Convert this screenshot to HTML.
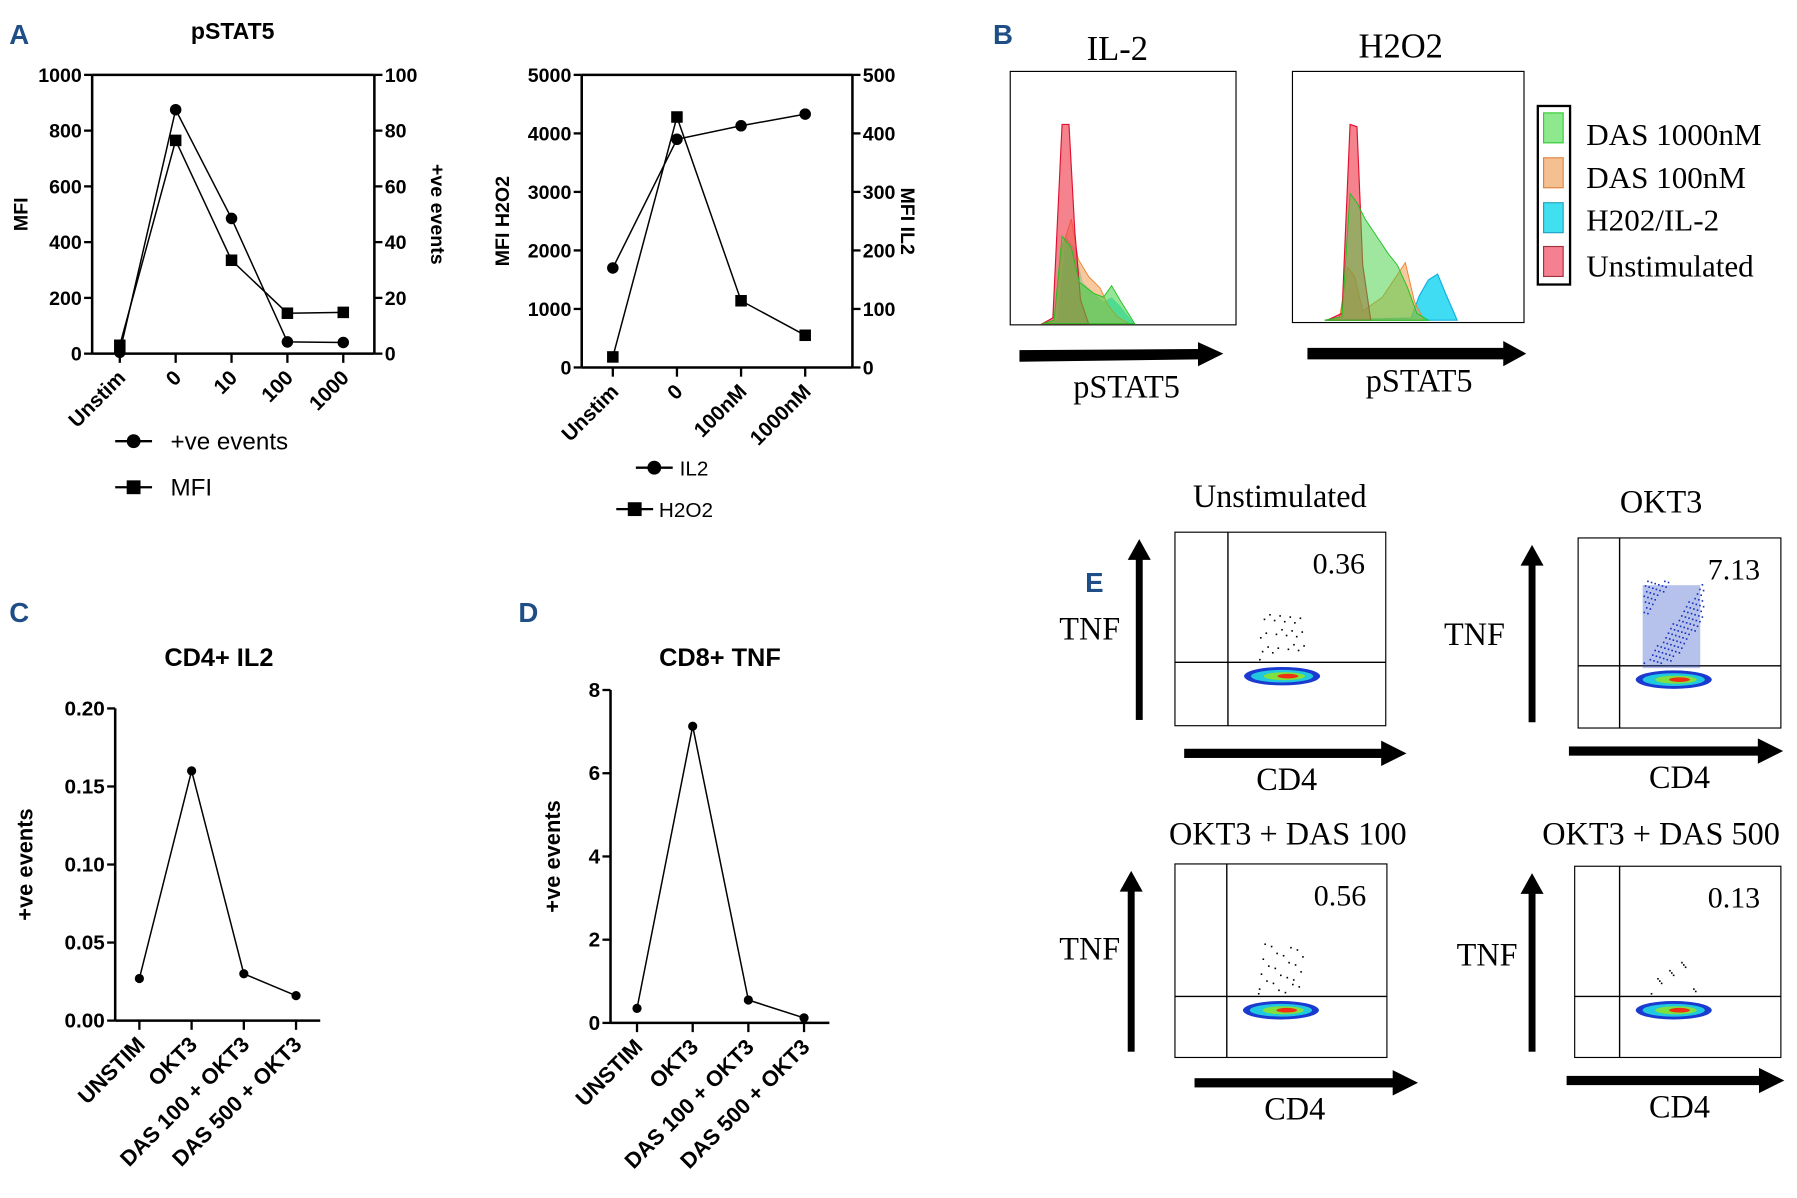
<!DOCTYPE html>
<html><head><meta charset="utf-8"><style>
html,body{margin:0;padding:0;background:#fff;}
svg{display:block;}
.s{font-family:"Liberation Sans",sans-serif;}
.r{font-family:"Liberation Serif",serif;}
</style></head><body>
<svg id="fig" width="1797" height="1198" viewBox="0 0 1560 1040" preserveAspectRatio="none" xmlns="http://www.w3.org/2000/svg">
<g class="s" font-weight="bold" fill="#1f4e87" font-size="24">
<text x="8" y="38">A</text>
<text x="862" y="38">B</text>
<text x="8" y="540">C</text>
<text x="450" y="540">D</text>
<text x="942" y="514">E</text>
</g>
<g id="charts"></g>
<!-- Panel B histograms -->
<g>
<text class="r" x="970" y="52" font-size="30" text-anchor="middle">IL-2</text>
<rect x="877" y="62" width="196" height="220" fill="none" stroke="#000" stroke-width="1"/>
<path d="M905,281 L918,279 L925,205 L933,215 L940,245 L950,255 L958,262 L965,258 L972,265 L985,281Z" fill="#00d8e8" fill-opacity="0.6"/>
<path d="M905,281 L915,278 L922,215 L930,190 L936,225 L945,240 L955,250 L962,265 L970,275 L980,281Z" fill="#f3a55e" fill-opacity="0.6" stroke="#f08030" stroke-width="0.8"/>
<path d="M905,281 L914,276 L922,108 L928,108 L933,200 L938,260 L945,281Z" fill="#f04050" fill-opacity="0.65" stroke="#e01030"/>
<path d="M905,281 L915,278 L922,205 L930,215 L937,245 L950,255 L958,258 L965,248 L972,260 L985,281Z" fill="#40d040" fill-opacity="0.55" stroke="#20c020" stroke-width="0.8"/>
<path d="M885,304 L1040,303 L1040,297 L1062,307 L1040,318 L1040,312 L885,314Z" fill="#000"/>
<text class="r" x="978" y="345" font-size="28" text-anchor="middle">pSTAT5</text>
</g>
<g>
<text class="r" x="1216" y="50" font-size="30" text-anchor="middle">H2O2</text>
<rect x="1122" y="62" width="201" height="218" fill="none" stroke="#000" stroke-width="1"/>
<path d="M1150,278 L1225,276 L1232,257 L1240,243 L1248,238 L1255,255 L1265,278Z" fill="#00d0f0" fill-opacity="0.75" stroke="#10b0e0"/>
<path d="M1150,278 L1163,275 L1170,232 L1176,240 L1183,270 L1200,258 L1212,240 L1220,228 L1228,262 L1236,278Z" fill="#f3a55e" fill-opacity="0.6" stroke="#f08030" stroke-width="0.8"/>
<path d="M1152,278 L1165,272 L1172,108 L1178,110 L1183,230 L1190,278Z" fill="#f04050" fill-opacity="0.65" stroke="#e01030"/>
<path d="M1150,278 L1165,275 L1172,168 L1178,176 L1185,190 L1195,205 L1205,220 L1213,230 L1222,250 L1230,272 L1240,278Z" fill="#40d040" fill-opacity="0.5" stroke="#20c020" stroke-width="0.8"/>
<path d="M1135,302 L1305,302 L1305,296 L1325,307 L1305,318 L1305,312 L1135,312Z" fill="#000"/>
<text class="r" x="1232" y="340" font-size="28" text-anchor="middle">pSTAT5</text>
</g>
<g class="r" font-size="27">
<rect x="1335" y="92" width="28" height="155" fill="none" stroke="#000" stroke-width="2"/>
<rect x="1340" y="98" width="17" height="26" fill="#8ee88e" stroke="#3c3"/><text x="1377" y="126">DAS 1000nM</text>
<rect x="1340" y="137" width="17" height="26" fill="#f5c090" stroke="#e08040"/><text x="1377" y="163">DAS 100nM</text>
<rect x="1340" y="176" width="17" height="26" fill="#40e0f0" stroke="#20a0c0"/><text x="1377" y="200">H202/IL-2</text>
<rect x="1340" y="214" width="17" height="26" fill="#f58090" stroke="#a03040"/><text x="1377" y="240">Unstimulated</text>
</g>
<g id="flows"></g>
</svg>
<script>
// ---------- Panel A left ----------
const aCats = ["Unstim","0","10","100","1000"];
const aMFI = [30,765,335,145,148];
const aEvents = [0.5,87.5,48.5,4.2,4.0];
const aLeftTicks = [0,200,400,600,800,1000];
const aRightTicks = [0,20,40,60,80,100];
// ---------- Panel A right ----------
const bCats = ["Unstim","0","100nM","1000nM"];
const bH2O2 = [180,4280,1140,550];
const bIL2 = [170,390,413,433];
const bLeftTicks = [0,1000,2000,3000,4000,5000];
const bRightTicks = [0,100,200,300,400,500];
// ---------- Panel C ----------
const cCats = ["UNSTIM","OKT3","DAS 100 + OKT3","DAS 500 + OKT3"];
const cVals = [0.027,0.16,0.030,0.016];
const cTicks = [0,0.05,0.10,0.15,0.20];
const cTickLabels = ["0.00","0.05","0.10","0.15","0.20"];
// ---------- Panel D ----------
const dCats = ["UNSTIM","OKT3","DAS 100 + OKT3","DAS 500 + OKT3"];
const dVals = [0.35,7.13,0.55,0.12];
const dTicks = [0,2,4,6,8];
// ---------- Panel E ----------
const eTitles = ["Unstimulated","OKT3","OKT3 + DAS 100","OKT3 + DAS 500"];
const ePct = ["0.36","7.13","0.56","0.13"];

const NS="http://www.w3.org/2000/svg";
function mk(p,tag,at,txt){const e=document.createElementNS(NS,tag);for(const k in at)e.setAttribute(k,at[k]);if(txt!==undefined)e.textContent=txt;p.appendChild(e);return e;}
const root=document.getElementById('charts');

function lineChart(o){
  const g=mk(root,'g',{});
  
  
  const yL=v=>o.y1+(o.y0-o.y1)*(1-v/o.lmax);
  const yR=v=>o.y1+(o.y0-o.y1)*(1-v/o.rmax);
  const xs=i=>o.xa+(o.xb-o.xa)*i/(o.cats.length-1);
  const tfs=o.tkfs||17;
  mk(g,'line',{x1:o.ax0,y1:o.y0,x2:o.ax1,y2:o.y0,stroke:'#000','stroke-width':2.2});
  mk(g,'line',{x1:o.ax0,y1:o.y0,x2:o.ax0,y2:o.y1,stroke:'#000','stroke-width':2.2});
  if(o.top) mk(g,'line',{x1:o.ax0,y1:o.y1,x2:o.ax1,y2:o.y1,stroke:'#000','stroke-width':2.2});
  o.lt.forEach((t,i)=>{const y=yL(t);mk(g,'line',{x1:o.ax0-7,y1:y,x2:o.ax0,y2:y,stroke:'#000','stroke-width':2});
    const tl=mk(g,'text',{x:o.ax0-9,y:y+6,'text-anchor':'end','font-size':tfs,'font-weight':'bold',class:'s'},o.ltl?o.ltl[i]:String(t));
    });
  if(o.rt){mk(g,'line',{x1:o.ax1,y1:o.y0,x2:o.ax1,y2:o.y1,stroke:'#000','stroke-width':2.2});
    o.rt.forEach(t=>{const y=yR(t);mk(g,'line',{x1:o.ax1,y1:y,x2:o.ax1+7,y2:y,stroke:'#000','stroke-width':2});
    mk(g,'text',{x:o.ax1+9,y:y+6,'font-size':tfs,'font-weight':'bold',class:'s'},String(t));});}
  o.cats.forEach((c,i)=>{const x=xs(i);mk(g,'line',{x1:x,y1:o.y0,x2:x,y2:o.y0+8,stroke:'#000','stroke-width':2});
    const t=mk(g,'text',{x:x+6,y:o.y0+22,'text-anchor':'end','font-size':o.cfs||17,'font-weight':'bold',class:'s',transform:`rotate(-45 ${x+6} ${o.y0+22})`},c);
    });
  o.series.forEach(s=>{const f=s.axis==='r'?yR:yL;
    const pts=s.v.map((v,i)=>xs(i)+','+f(v)).join(' ');
    const pl=mk(g,'polyline',{points:pts,fill:'none',stroke:'#000','stroke-width':1.3});
    
    s.v.forEach((v,i)=>{let m;
      if(s.mk==='sq') m=mk(g,'rect',{x:xs(i)-5,y:f(v)-5,width:10,height:10,fill:'#000'});
      else m=mk(g,'circle',{cx:xs(i),cy:f(v),r:s.r||5,fill:'#000'});
      });});
  if(o.title) mk(g,'text',{x:o.tx,y:o.ty,'text-anchor':'middle','font-size':o.tfs||20,'font-weight':'bold',class:'s'},o.title);
  if(o.ylab) mk(g,'text',{x:0,y:0,'text-anchor':'middle','font-size':o.yfs||17,'font-weight':'bold',class:'s',transform:`translate(${o.ylx},${(o.y0+o.y1)/2}) rotate(-90)`},o.ylab);
  if(o.rlab) mk(g,'text',{x:0,y:0,'text-anchor':'middle','font-size':17,'font-weight':'bold',class:'s',transform:`translate(${o.rlx},${(o.y0+o.y1)/2}) rotate(90)`},o.rlab);
}
lineChart({name:'pstat5-chart',cats:aCats,ax0:80,ax1:325,y0:307,y1:65,top:true,xa:104,xb:298,lmax:1000,rmax:100,lt:aLeftTicks,rt:aRightTicks,cfs:18,
  series:[{name:'mfi',v:aMFI,mk:'sq'},{name:'events',v:aEvents,axis:'r'}],title:'pSTAT5',tx:202,ty:34,ylab:'MFI',ylx:24,rlab:'+ve events',rlx:374});
lineChart({name:'h2o2-il2-chart',cats:bCats,ax0:505,ax1:740,y0:319,y1:65,top:true,xa:532,xb:699,lmax:5000,rmax:500,lt:bLeftTicks,rt:bRightTicks,cfs:18,
  series:[{name:'h2o2',v:bH2O2,mk:'sq'},{name:'il2',v:bIL2,axis:'r'}],ylab:'MFI H2O2',ylx:442,rlab:'MFI IL2',rlx:782});
lineChart({name:'cd4-il2-chart',cats:cCats,ax0:100,ax1:278,y0:886,y1:615,xa:121,xb:257,lmax:0.20,lt:cTicks,ltl:cTickLabels,cfs:19,tkfs:18,
  series:[{name:'cd4-il2',v:cVals,r:4}],title:'CD4+ IL2',tx:190,ty:578,tfs:22,ylab:'+ve events',ylx:28,yfs:19});
lineChart({name:'cd8-tnf-chart',cats:dCats,ax0:530,ax1:720,y0:888,y1:599,xa:553,xb:698,lmax:8,lt:dTicks,cfs:19,tkfs:18,
  series:[{name:'cd8-tnf',v:dVals,r:4}],title:'CD8+ TNF',tx:625,ty:578,tfs:22,ylab:'+ve events',ylx:486,yfs:19});

// legends for panel A
const L=mk(root,'g',{class:'s'});

[[100,383,'c','+ve events',148,21],[100,423,'s','MFI',148,21],[552,406,'c','IL2',590,18],[535,442,'s','H2O2',572,18]].forEach(a=>{
  mk(L,'line',{x1:a[0],y1:a[1],x2:a[0]+32,y2:a[1],stroke:'#000','stroke-width':2});
  if(a[2]==='c') mk(L,'circle',{cx:a[0]+16,cy:a[1],r:6,fill:'#000'}); else mk(L,'rect',{x:a[0]+10,y:a[1]-6,width:12,height:12,fill:'#000'});
  mk(L,'text',{x:a[4],y:a[1]+7,'font-size':a[5]},a[3]);});

// ---------- Panel E flow plots ----------
const F=document.getElementById('flows');
const boxes=[[1020,462,183,168,1066,575,1111,440,946,555,989,1028,654],[1370,467,176,165,1406,578,1442,445,1280,560,1330,1362,652],
 [1020,750,184,168,1065,865,1118,733,946,833,982,1037,940],[1367,752,179,166,1406,865,1442,733,1291,838,1330,1360,938]];
const spread=[[25,40],[120,72],[25,45],[12,30]];
boxes.forEach((b,k)=>{
  const g=mk(F,'g',{});
  
  mk(g,'rect',{x:b[0],y:b[1],width:b[2],height:b[3],fill:'#fff',stroke:'#000','stroke-width':1});
  mk(g,'line',{x1:b[4],y1:b[1],x2:b[4],y2:b[1]+b[3],stroke:'#000','stroke-width':1.2});
  mk(g,'line',{x1:b[0],y1:b[5],x2:b[0]+b[2],y2:b[5],stroke:'#000','stroke-width':1.2});
  const cx=b[4]+47, cy=b[5]+12;
  if(k===1) mk(g,'rect',{x:cx-27,y:b[5]-70,width:50,height:72,fill:'#3050c8','fill-opacity':0.35});
  const n=spread[k][0];
  for(let i=0;i<n;i++){const dx=((i*37)%50)-25, dy=((i*53)%spread[k][1]);mk(g,'rect',{x:cx+dx*(k===1?1.05:0.8),y:b[5]-3-dy,width:1.4,height:1.4,fill:k===1?'#1030c0':'#000'});}
  mk(g,'ellipse',{cx:cx,cy:cy,rx:33,ry:8,fill:'#1a3ad0'});
  mk(g,'ellipse',{cx:cx,cy:cy,rx:27,ry:5.5,fill:'#20c8e0'});
  mk(g,'ellipse',{cx:cx+2,cy:cy,rx:18,ry:3.5,fill:'#7fe040'});
  mk(g,'ellipse',{cx:cx+5,cy:cy,rx:9,ry:2,fill:'#f03010'});
  mk(g,'text',{x:b[0]+b[2]-18,y:b[1]+36,'text-anchor':'end','font-size':26,class:'r'},ePct[k]);
  mk(g,'text',{x:b[6],y:b[7],'text-anchor':'middle','font-size':28,class:'r'},eTitles[k]);
  mk(g,'text',{x:b[8],y:b[9],'text-anchor':'middle','font-size':28,class:'r'},'TNF');
  mk(g,'rect',{x:b[10]-3,y:b[1]+20,width:6,height:b[3]-25,fill:'#000'});
  mk(g,'polygon',{points:`${b[10]-10},${b[1]+24} ${b[10]},${b[1]+6} ${b[10]+10},${b[1]+24}`,fill:'#000'});
  mk(g,'rect',{x:b[11],y:b[12]-4,width:b[2]-10,height:8,fill:'#000'});
  mk(g,'polygon',{points:`${b[11]+b[2]-12},${b[12]-11} ${b[11]+b[2]+10},${b[12]} ${b[11]+b[2]-12},${b[12]+11}`,fill:'#000'});
  mk(g,'text',{x:b[6]+(k%2?16:6),y:b[12]+32,'text-anchor':'middle','font-size':28,class:'r'},'CD4');
});
</script>
</body></html>
